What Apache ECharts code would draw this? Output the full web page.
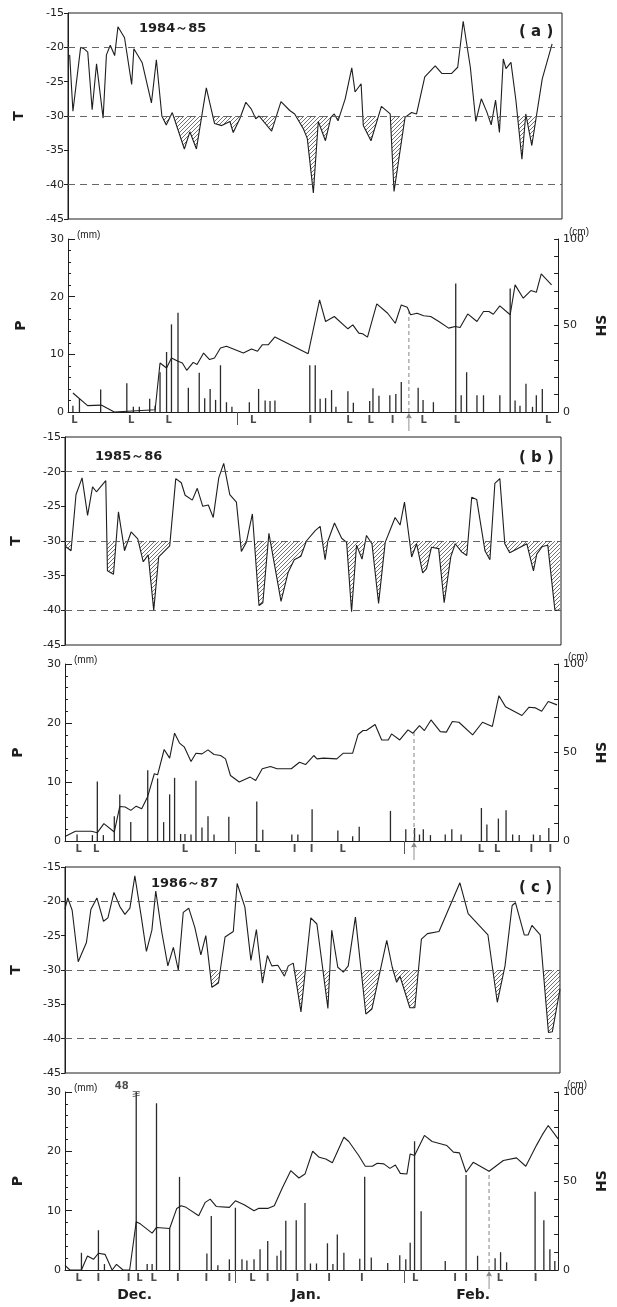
<!DOCTYPE html>
<html><head><meta charset="utf-8">
<script src="https://cdn.jsdelivr.net/npm/echarts@6.0.0/dist/echarts.min.js"></script>
<style>html,body{margin:0;padding:0;background:#fff}#c{width:617px;height:1307px}</style>
</head><body><div id="c"></div>
<script>
// ---------- DATA (x = day position from 1 Dec) ----------
const seasonNames = ['1984～85', '1985～86', '1986～87'];
const panelTags = ['( a )', '( b )', '( c )'];
const refLevels = [-20, -30, -40];
const monthLabelPos = [12.7, 44, 74.5];
const monthNames = ['Dec.', 'Jan.', 'Feb.'];

// (a) 1984-85
const tDayA = [0.3,0.9,2.3,2.9,3.6,4.4,5.2,6.4,7.0,7.7,8.5,9.1,10.3,11.6,12.0,13.5,15.2,16.1,17.1,17.9,19.0,21.2,22.2,23.4,25.2,26.7,28.0,29.5,30.1,31.3,32.4,33.4,34.2,34.8,37.1,38.8,40.4,41.3,42.9,43.6,44.7,45.6,46.9,47.9,48.5,49.2,50.5,51.7,52.3,53.4,53.8,55.2,57.1,58.7,59.4,61.4,62.6,63.5,65.0,66.9,68.1,69.9,71.0,72.0,73.3,74.3,75.3,76.3,77.1,77.9,78.6,79.3,79.8,80.7,81.6,82.7,83.4,84.5,86.4,88.2];
const tValA = [-21.1,-29.3,-20.0,-20.2,-20.7,-29.1,-22.4,-30.3,-21.1,-19.7,-21.2,-17.0,-18.6,-25.4,-20.2,-22.2,-28.1,-21.8,-30.0,-31.3,-29.5,-34.8,-32.3,-34.8,-25.9,-31.1,-31.4,-30.8,-32.4,-30.4,-28.0,-29.0,-30.4,-30.0,-32.2,-27.9,-29.2,-29.7,-31.9,-33.3,-41.2,-30.8,-33.6,-30.2,-29.7,-30.7,-27.5,-23.0,-26.5,-25.3,-31.4,-33.6,-28.6,-29.7,-41.0,-30.2,-29.5,-29.7,-24.3,-22.7,-23.8,-23.8,-22.9,-16.2,-22.9,-30.8,-27.5,-29.4,-31.3,-27.7,-32.4,-21.7,-23.1,-22.2,-27.7,-36.3,-29.7,-34.3,-24.6,-19.5];
const pDayA = [0.9,2.1,6.0,10.8,12.0,13.1,15.0,16.0,16.9,18.1,19.0,20.2,22.1,24.1,25.1,26.1,27.1,28.0,29.1,30.1,33.3,35.0,36.2,37.1,38.0,44.4,45.4,46.3,47.3,48.4,49.2,51.4,52.4,55.4,56.0,57.1,59.1,60.2,61.2,64.3,65.2,67.1,71.2,72.2,73.2,75.1,76.3,79.3,81.2,82.1,83.0,84.1,85.3,86.0,87.1];
const pValA = [1.1,2.3,3.9,5.0,0.9,0.9,2.3,1.1,6.9,10.4,15.2,17.2,4.2,6.8,2.4,4.0,2.1,8.1,1.7,0.9,1.7,4.0,2.0,1.9,2.0,8.1,8.1,2.3,2.4,3.8,0.9,3.6,1.6,1.9,4.1,2.8,2.9,3.1,5.2,4.2,2.1,1.7,22.3,2.9,6.9,2.9,2.9,2.9,21.4,2.0,1.1,4.9,0.9,2.9,4.0];
const hsDayA = [0.9,3.6,6.1,8.5,16.0,16.9,18.1,19.0,20.2,21.0,21.8,23.0,23.7,24.9,26.0,26.9,28.0,29.1,32.2,33.7,34.8,35.7,36.8,38.0,44.1,46.2,47.3,48.9,51.4,52.3,53.4,54.1,55.0,56.7,58.7,60.1,61.2,62.3,62.9,64.1,65.3,66.6,68.1,69.9,71.1,72.0,73.4,75.1,76.3,77.3,78.1,79.3,81.2,82.1,83.6,85.0,86.0,86.9,88.8];
const hsValA = [11.0,3.7,4.0,0,1.3,28.3,25.4,31.2,29.3,28.3,24.1,28.7,27.4,34.1,30.3,31.2,37.0,38.0,34.1,36.4,35.1,38.9,38.9,43.4,33.7,64.8,52.3,55.2,48.1,50.4,45.6,45.2,43.3,62.5,57.1,51.3,61.9,60.6,56.2,57.1,55.6,55.2,52.3,48.5,49.4,48.8,56.7,52.3,58.1,58.1,56.5,61.3,56.2,73.5,65.8,70.2,69.2,79.8,73.5];
const evDayA = [1.2,11.6,18.5,34.0,44.5,51.7,55.6,59.6,65.3,71.4,88.2];
const evTypeA = ['L','L','L','L','I','L','L','I','L','L','L'];
const arrowDayA = [62.6];
const arrowHsA = [58];
const monthTickA = [31];

// (b) 1985-86
const tDayB = [0.1,1.1,2.0,3.1,4.1,5.0,5.7,7.4,7.7,8.8,9.7,10.8,12.0,13.2,14.2,15.1,16.1,17.0,19.0,20.1,21.1,21.8,23.1,24.0,25.0,26.0,26.9,27.9,28.8,29.9,31.1,32.0,32.9,34.0,35.2,35.9,37.0,39.2,40.5,41.6,42.8,43.8,45.4,46.3,47.2,47.7,48.9,50.2,51.1,52.0,52.9,53.9,54.7,55.7,56.9,58.1,59.9,60.8,61.6,62.9,63.8,64.9,65.6,66.5,67.8,68.8,70.0,70.8,72.0,72.9,73.8,74.7,76.2,77.1,78.0,78.9,79.8,80.7,83.8,85.0,85.6,86.6,87.6,88.9,89.8];
const tValB = [-30.8,-31.4,-23.3,-20.9,-26.3,-22.2,-22.9,-21.3,-34.3,-34.8,-25.8,-31.4,-28.7,-29.7,-33.0,-32.0,-40.0,-32.3,-30.7,-21.0,-21.6,-23.4,-24.1,-22.4,-25.0,-24.8,-26.6,-20.9,-18.8,-23.3,-24.4,-31.5,-30.2,-26.1,-39.3,-38.9,-28.9,-38.7,-34.5,-32.7,-32.2,-30.0,-28.5,-27.9,-32.7,-30.0,-27.4,-29.6,-30.2,-40.2,-30.6,-32.6,-29.2,-30.4,-39.0,-30.2,-26.6,-27.7,-24.4,-32.3,-30.4,-34.6,-34.0,-30.9,-31.1,-38.9,-32.3,-30.4,-31.6,-32.1,-23.7,-24.0,-31.4,-32.7,-21.7,-21.0,-30.4,-31.7,-30.4,-34.3,-31.9,-30.8,-30.6,-40.0,-40.0];
const pDayB = [2.2,5.0,5.9,7.0,9.0,10.0,12.0,15.1,16.9,18.0,19.1,20.0,21.1,21.9,23.0,23.9,25.0,26.1,27.2,29.9,35.0,36.1,41.4,42.5,45.1,49.8,52.5,53.7,59.4,62.2,63.8,64.7,65.4,66.7,69.4,70.6,72.3,76.0,77.0,79.1,80.5,81.7,82.9,85.5,86.7,88.3];
const pValB = [1.1,1.0,10.1,1.0,4.2,7.9,3.2,12.0,10.6,3.2,7.9,10.7,1.2,1.2,1.1,10.2,2.3,4.2,1.1,4.1,6.7,1.9,1.1,1.1,5.4,1.8,0.8,2.4,5.1,2.0,2.2,1.1,2.0,1.0,1.1,2.0,1.1,5.6,2.8,3.8,5.2,1.1,1.0,1.1,1.0,2.2];
const hsDayB = [0,1.9,4.8,5.9,7.1,9.0,10.0,11.0,12.0,13.0,14.0,15.1,16.3,16.9,18.1,19.1,20.0,20.9,21.8,23.0,23.9,25.0,26.1,27.2,28.4,29.3,30.2,31.8,33.8,34.8,36.0,37.5,38.7,41.3,42.8,43.9,45.4,46.0,47.2,49.6,50.8,52.5,53.5,54.4,55.0,56.6,57.8,59.0,59.6,61.1,62.6,63.5,64.7,65.6,66.8,68.5,69.6,70.7,71.9,74.4,76.2,78.0,79.2,80.4,83.4,84.7,85.9,87.0,88.2,89.8];
const hsValB = [2.6,5.5,5.5,4.7,9.8,5.1,19.5,19.2,17.3,19.7,18.2,25.2,38.0,37.4,51.7,46.8,60.9,55.3,53.0,44.9,49.6,49.2,51.5,48.9,48.3,46.4,37.0,33.3,36.1,34.2,40.8,42.1,40.8,40.8,44.5,43.2,48.3,46.4,46.8,46.4,49.6,49.6,60.2,62.4,62.4,65.8,57.1,57.1,60.5,57.1,62.8,60.9,65.2,62.4,68.4,61.8,61.5,67.5,67.1,60.0,67.1,64.7,82.1,75.9,70.9,75.6,75.2,73.3,78.8,76.9];
const evDayB = [2.5,5.7,21.9,35.1,41.9,45.0,50.7,75.9,78.9,85.1,88.6];
const evTypeB = ['L','L','L','L','I','I','L','L','L','I','I'];
const arrowDayB = [63.7];
const arrowHsB = [61.5];
const monthTickB = [31, 62];

// (c) 1986-87
const tDayC = [0,0.5,1.3,2.4,3.9,4.7,5.8,7.0,7.8,8.9,10.0,10.9,11.8,12.7,13.9,14.8,15.8,16.5,17.6,18.7,19.7,20.6,21.5,22.5,23.6,24.7,25.6,26.7,27.9,29.1,30.6,31.3,32.7,33.8,34.8,35.9,36.8,37.6,38.7,39.9,40.6,41.5,42.9,44.7,45.8,47.8,48.5,49.6,50.6,51.5,52.8,54.7,55.8,58.5,59.5,60.3,60.9,62.7,63.6,64.8,65.9,68.0,71.8,73.3,76.9,78.6,80.0,81.3,81.9,83.5,84.2,84.9,86.4,87.9,88.6,90.0];
const tValC = [-21.1,-19.5,-21.3,-28.8,-26.0,-21.2,-19.5,-22.9,-22.4,-18.7,-20.8,-21.9,-21.0,-16.3,-22.4,-27.3,-24.2,-18.5,-24.5,-29.4,-26.7,-30.0,-21.6,-21.0,-23.8,-27.8,-25.0,-32.5,-31.9,-25.2,-24.4,-17.4,-20.8,-28.6,-24.1,-31.9,-27.9,-29.4,-29.3,-30.9,-29.4,-29.0,-36.1,-22.4,-23.3,-35.6,-24.2,-29.6,-30.3,-29.4,-22.3,-36.4,-35.7,-25.7,-29.6,-31.8,-30.9,-35.5,-35.5,-25.5,-24.7,-24.4,-17.3,-21.8,-24.9,-34.7,-29.4,-20.6,-20.2,-24.9,-24.9,-23.5,-24.9,-39.1,-39.0,-32.8];
const pDayC = [3.0,6.1,7.2,13.0,15.0,15.9,16.7,19.1,20.9,25.9,26.7,27.9,30.0,31.1,32.3,33.2,34.5,35.6,37.0,38.7,39.4,40.3,42.2,43.8,44.8,45.9,47.9,48.9,49.7,50.9,53.8,54.7,55.9,58.9,61.1,62.2,63.0,63.8,65.0,69.4,73.2,75.3,78.5,79.5,80.6,85.8,87.4,88.5,89.4];
const pValC = [2.9,6.7,1.0,48,1.0,1.0,28.1,7.0,15.7,2.8,9.1,0.8,1.8,10.5,1.8,1.6,1.8,3.5,4.9,2.4,3.3,8.3,8.4,11.3,1.1,1.1,4.5,1.0,6.0,2.9,1.9,15.7,2.1,1.2,2.5,1.8,4.6,21.7,9.9,1.5,16.0,2.4,2.0,3.0,1.3,13.2,8.4,3.5,1.5];
const hsDayC = [0,0.9,3.0,4.1,5.2,6.1,7.3,8.6,9.4,10.6,11.8,13.0,13.8,15.9,16.7,19.1,20.4,21.2,22.1,24.4,25.6,26.5,27.6,30.0,31.1,32.7,34.5,35.3,37.0,38.2,39.7,41.2,42.7,43.8,45.2,46.4,47.6,48.8,50.9,51.8,53.6,54.8,56.1,57.0,58.2,59.3,60.3,61.2,62.4,63.0,63.8,65.6,67.0,69.7,70.9,72.0,73.2,74.5,77.4,80.0,82.4,84.1,86.1,87.1,88.2,90.0];
const hsValC = [2.6,0,0,7.9,6.0,9.4,8.8,0,3.2,0,0,27.1,25.8,20.7,23.9,23.3,34.6,36.1,35.2,30.5,38.0,39.8,35.7,35.2,38.9,36.7,33.3,34.6,34.6,36.1,46.4,55.8,51.7,53.9,66.7,63.3,62.4,60.2,74.6,72.2,64.3,58.3,58.3,60.0,59.6,57.1,59.0,54.3,53.9,65.2,64.3,75.6,72.2,69.9,66.2,65.8,54.9,60.5,55.5,61.5,63.0,58.3,70.3,75.9,81.2,73.7];
const evDayC = [2.5,6.1,11.6,13.6,16.2,20.6,25.8,30.0,34.2,37.0,42.4,48.2,54.2,63.9,71.2,73.2,79.4,85.9];
const evTypeC = ['L','I','I','L','L','I','I','I','L','I','I','I','I','L','I','I','L','I'];
const arrowDayC = [77.4];
const arrowHsC = [55.5];
const monthTickC = [31, 62];

// ---------- CHART ----------
const zip = (a, b) => a.map((x, i) => [x, b[i]]);
const FONT = 'DejaVu Sans';
const INK = '#1e1e1e';
const P_MAX = 30;

function hatchPattern() {
  const c = document.createElement('canvas');
  c.width = 4; c.height = 4;
  const g = c.getContext('2d');
  g.strokeStyle = '#333'; g.lineWidth = 0.7;
  g.beginPath();
  g.moveTo(0, 4); g.lineTo(4, 0);
  g.moveTo(-1, 1); g.lineTo(1, -1);
  g.moveTo(3, 5); g.lineTo(5, 3);
  g.stroke();
  return c;
}
const hatch = { image: hatchPattern(), repeat: 'repeat' };

const panels = [
  { t: [tDayA, tValA], p: [pDayA, pValA], hs: [hsDayA, hsValA], ev: [evDayA, evTypeA], ar: [arrowDayA, arrowHsA], mt: monthTickA,
    left: 68, right: 55, tTop: 13, tH: 206, pTop: 239, pH: 173, yx: 134, yy: 17, tgy: 20 },
  { t: [tDayB, tValB], p: [pDayB, pValB], hs: [hsDayB, hsValB], ev: [evDayB, evTypeB], ar: [arrowDayB, arrowHsB], mt: monthTickB,
    left: 65, right: 56, tTop: 437, tH: 208, pTop: 664, pH: 177, yx: 90, yy: 445, tgy: 446 },
  { t: [tDayC, tValC], p: [pDayC, pValC], hs: [hsDayC, hsValC], ev: [evDayC, evTypeC], ar: [arrowDayC, arrowHsC], mt: monthTickC,
    left: 65, right: 57, tTop: 867, tH: 206, pTop: 1092, pH: 178, yx: 146, yy: 872, tgy: 876 }
];

const grid = [], xAxis = [], yAxis = [], series = [], title = [];
const lblStyle = { fontSize: 11, color: INK, fontFamily: FONT };

panels.forEach((pn, k) => {
  const g0 = grid.length;
  grid.push({ left: pn.left, right: pn.right, top: pn.tTop, height: pn.tH, show: true, borderColor: INK, borderWidth: 1, backgroundColor: 'transparent' });
  grid.push({ left: pn.left, right: pn.right, top: pn.tTop + pn.tH / 2, height: pn.tH / 2, show: false });
  grid.push({ left: pn.left, right: pn.right, top: pn.pTop, height: pn.pH, show: false });

  const hidden = gi => ({ gridIndex: gi, type: 'value', min: 0, max: 90, show: false });
  xAxis.push(hidden(g0), hidden(g0 + 1));
  xAxis.push({
    gridIndex: g0 + 2, type: 'value', min: 0, max: 90,
    axisLine: { show: true, lineStyle: { color: INK, width: 1 } },
    axisTick: { show: true, customValues: pn.mt, length: 13, lineStyle: { color: '#555', width: 1 } },
    axisLabel: k === 2 ? {
      show: true, customValues: monthLabelPos, margin: 18,
      formatter: v => { const i = monthLabelPos.findIndex(m => Math.abs(m - v) < 1e-6); return i >= 0 ? monthNames[i] : ''; },
      fontSize: 14, fontWeight: 'bold', color: INK, fontFamily: FONT
    } : { show: false },
    splitLine: { show: false }
  });
  const xi = xAxis.length - 3;

  const yi = yAxis.length;
  yAxis.push({
    gridIndex: g0, type: 'value', min: -45, max: -15, interval: 5,
    axisLine: { show: true, lineStyle: { color: INK } },
    axisTick: { show: true, length: 4, lineStyle: { color: INK } },
    axisLabel: Object.assign({ margin: 4 }, lblStyle),
    splitLine: { show: false },
    name: 'T', nameLocation: 'middle', nameGap: 42, nameRotate: 90,
    nameTextStyle: { fontSize: 14, fontWeight: 'bold', color: INK, fontFamily: FONT }
  });
  yAxis.push({ gridIndex: g0 + 1, type: 'value', min: -45, max: -30, show: false });
  yAxis.push({
    gridIndex: g0 + 2, type: 'value', min: 0, max: P_MAX, interval: 10,
    axisLine: { show: true, lineStyle: { color: INK } },
    axisTick: { show: true, inside: true, length: 7, lineStyle: { color: INK } },
    minorTick: { show: true, splitNumber: 5, length: 3, lineStyle: { color: INK } },
    axisLabel: Object.assign({ margin: 4 }, lblStyle),
    splitLine: { show: false }, minorSplitLine: { show: false },
    name: 'P', nameLocation: 'middle', nameGap: 40, nameRotate: 90,
    nameTextStyle: { fontSize: 14, fontWeight: 'bold', color: INK, fontFamily: FONT }
  });
  yAxis.push({
    gridIndex: g0 + 2, type: 'value', position: 'right', min: 0, max: 100, interval: 10,
    axisLine: { show: true, lineStyle: { color: INK } },
    axisTick: { show: true, inside: true, length: 4, lineStyle: { color: INK } },
    axisLabel: Object.assign({ margin: 5, formatter: v => (v % 50 === 0 ? String(v) : '') }, lblStyle),
    splitLine: { show: false },
    name: 'HS', nameLocation: 'middle', nameGap: 34, nameRotate: 90,
    nameTextStyle: { fontSize: 14, fontWeight: 'bold', color: INK, fontFamily: FONT }
  });

  const tData = zip(pn.t[0], pn.t[1]);
  // hatched area below -30 (clipped by the lower half grid)
  series.push({
    type: 'line', xAxisIndex: xi + 1, yAxisIndex: yi + 1, data: tData, symbol: 'none', clip: true,
    lineStyle: { width: 0, opacity: 0 }, areaStyle: { origin: 'end', color: hatch, opacity: 1 }, z: 1, silent: true
  });
  // temperature line
  series.push({
    type: 'line', xAxisIndex: xi, yAxisIndex: yi, data: tData, symbol: 'none',
    lineStyle: { color: INK, width: 1.1 }, z: 3, silent: true,
    markLine: {
      silent: true, symbol: 'none', label: { show: false },
      lineStyle: { color: '#555', type: [7, 5], width: 0.9 },
      data: refLevels.map(v => ({ yAxis: v }))
    }
  });
  // precipitation bars
  series.push({
    type: 'bar', xAxisIndex: xi + 2, yAxisIndex: yi + 2, data: zip(pn.p[0], pn.p[1]),
    barWidth: 1.3, itemStyle: { color: '#2a2a2a' }, clip: true, silent: true, z: 2
  });
  // snow depth
  series.push({
    type: 'line', xAxisIndex: xi + 2, yAxisIndex: yi + 3, data: zip(pn.hs[0], pn.hs[1]), symbol: 'none',
    lineStyle: { color: INK, width: 1.1 }, z: 3, silent: true
  });
  // L / I markers under axis
  series.push({
    type: 'scatter', xAxisIndex: xi + 2, yAxisIndex: yi + 2, clip: false, silent: true,
    data: pn.ev[0].map((d, i) => ({ value: [d, 0], name: pn.ev[1][i] })),
    symbolSize: 1, itemStyle: { color: 'rgba(0,0,0,0)' },
    label: { show: true, position: 'bottom', distance: 3, formatter: p => p.name, fontSize: 10, fontWeight: 'bold', color: INK, fontFamily: FONT }
  });
  // dashed marker line up to HS
  pn.ar[0].forEach((d, i) => {
    series.push({
      type: 'line', xAxisIndex: xi + 2, yAxisIndex: yi + 3, data: [[d, 0], [d, pn.ar[1][i]]], symbol: 'none',
      lineStyle: { color: '#777', type: [4, 3], width: 0.9 }, silent: true, z: 2
    });
  });
  // arrow below axis
  series.push({
    type: 'scatter', xAxisIndex: xi + 2, yAxisIndex: yi + 3, clip: false, silent: true,
    data: pn.ar[0].map(d => [d, 0]),
    symbol: 'path://M5,0 L9,9 L5.6,8 L5.6,30 L4.4,30 L4.4,8 L1,9 Z', symbolSize: [6, 18], symbolOffset: [0, 10],
    itemStyle: { color: '#666' }
  });
  // broken bars (value above axis max)
  const over = pn.p[0].map((d, i) => (pn.p[1][i] > P_MAX ? { value: [d, P_MAX], v: pn.p[1][i] } : null)).filter(Boolean);
  if (over.length) {
    series.push({
      type: 'scatter', xAxisIndex: xi + 2, yAxisIndex: yi + 2, clip: false, silent: true,
      data: over.map(o => ({ value: o.value, name: String(o.v) })),
      symbol: 'path://M0,0 L10,0 L10,1 L0,1 Z M0,4 L10,2 L10,3 L0,5 Z M0,7 L10,5 L10,6 L0,8 Z',
      symbolSize: [7, 6], symbolOffset: [0, 2], itemStyle: { color: INK },
      label: { show: true, position: 'left', offset: [0, -8], distance: 4, formatter: p => p.name, fontSize: 10, fontWeight: 'bold', color: INK, fontFamily: FONT }
    });
  }

  const rx = 617 - pn.right;
  title.push({ text: seasonNames[k], left: pn.yx, top: pn.yy, textStyle: { fontSize: 13, fontWeight: 'bold', color: INK, fontFamily: FONT } });
  title.push({ text: panelTags[k], left: 514, top: pn.tgy, textStyle: { fontSize: 15, fontWeight: 'bold', color: INK, fontFamily: FONT } });
  title.push({ text: '(mm)', left: pn.left + 4, top: pn.pTop - 14, textStyle: { fontSize: 10, fontWeight: 'normal', color: INK, fontFamily: 'Liberation Sans' } });
  title.push({ text: '(cm)', left: rx + 2, top: pn.pTop - 17, textStyle: { fontSize: 10, fontWeight: 'normal', color: INK, fontFamily: 'Liberation Sans' } });
});

const chart = echarts.init(document.getElementById('c'), null, { renderer: 'canvas' });
chart.setOption({ backgroundColor: '#fff', animation: false, title, grid, xAxis, yAxis, series });
</script></body></html>
